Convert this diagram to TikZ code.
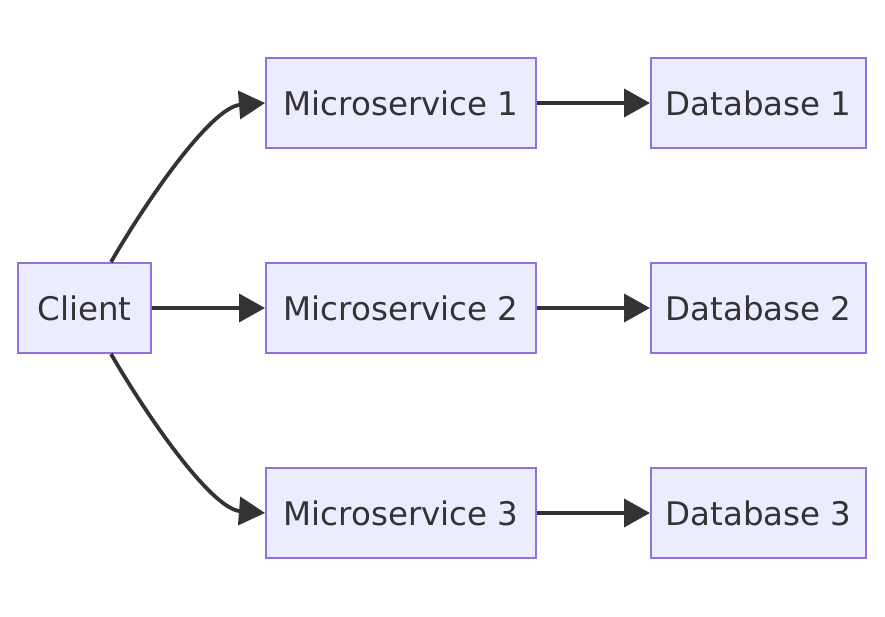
\documentclass[tikz,border=0pt]{standalone}
\usepackage{fontspec}
\setmainfont{DejaVu Sans}
\usetikzlibrary{arrows.meta,calc}
\definecolor{nodefill}{HTML}{ECECFF}
\definecolor{nodeline}{HTML}{9370DB}
\definecolor{ink}{HTML}{333333}
\begin{document}
\begin{tikzpicture}[x=1pt,y=1pt,
  box/.style={draw=nodeline,fill=nodefill,line width=2pt,minimum height=90pt,inner sep=0pt,
    text=ink,font=\fontsize{32.5}{38}\selectfont},
  link/.style={draw=ink,line width=3.8pt,-{Triangle[length=26pt,width=28pt]}}]
\useasboundingbox (0,0) rectangle (885,617);
\node[box,minimum width=133pt] (c) at (84.5,309) {Client};
\node[box,minimum width=270pt] (m1) at (401,514) {Microservice 1};
\node[box,minimum width=270pt] (m2) at (401,309) {Microservice 2};
\node[box,minimum width=270pt] (m3) at (401,104) {Microservice 3};
\node[box,minimum width=215pt] (d1) at (758.5,514) {Database 1};
\node[box,minimum width=215pt] (d2) at (758.5,309) {Database 2};
\node[box,minimum width=215pt] (d3) at (758.5,104) {Database 3};
\draw[link] ($(c.north west)+(94,0)$) .. controls +(42,72) and +(-52,-4) .. (m1.west);
\draw[link] ($(c.south west)+(94,0)$) .. controls +(42,-72) and +(-52,4) .. (m3.west);
\draw[link] (c.east) -- (m2.west);
\draw[link] (m1.east) -- (d1.west);
\draw[link] (m2.east) -- (d2.west);
\draw[link] (m3.east) -- (d3.west);
\end{tikzpicture}
\end{document}
